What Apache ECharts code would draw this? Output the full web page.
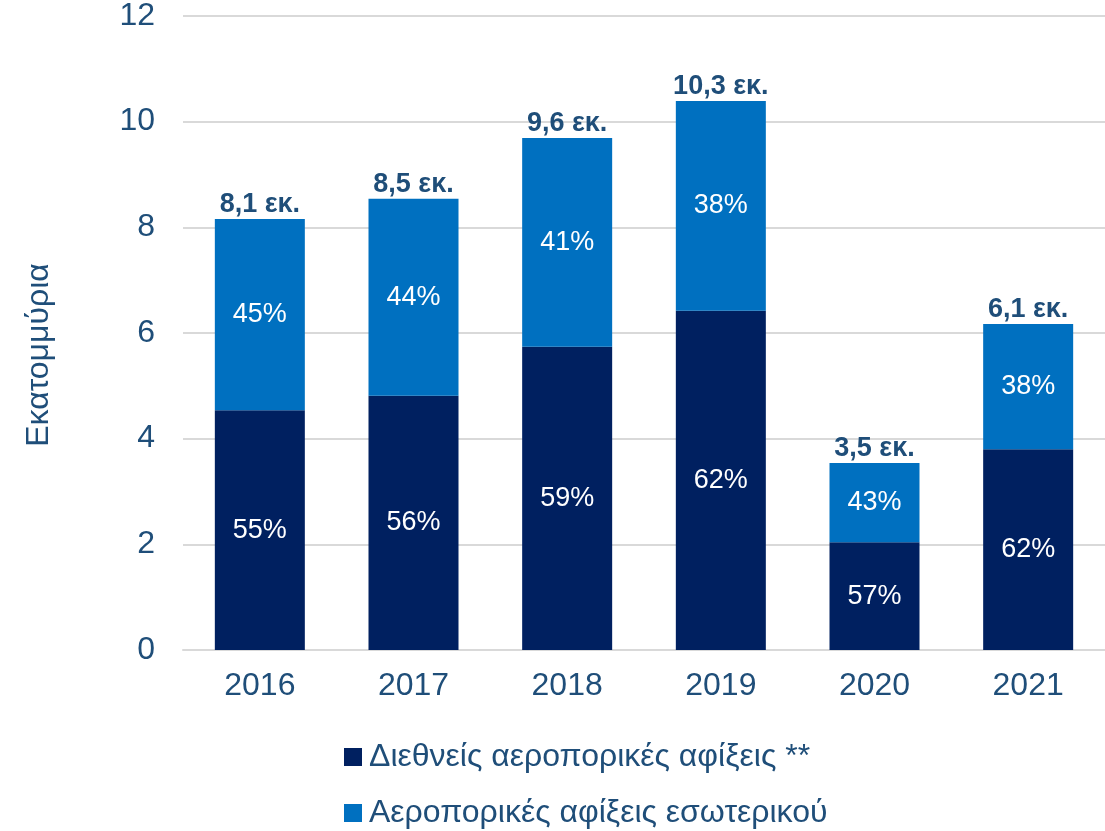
<!DOCTYPE html>
<html>
<head>
<meta charset="utf-8">
<script src="https://cdn.jsdelivr.net/npm/echarts@6/dist/echarts.min.js"></script>
<style>
html,body{margin:0;padding:0;background:#fff;}
#main{width:1105px;height:831px;}
</style>
</head>
<body>
<div id="main"></div>
<script>
const years = ['2016', '2017', '2018', '2019', '2020', '2021'];
const intlArrivals = [4.54, 4.81, 5.74, 6.42, 2.04, 3.80];
const domArrivals = [3.62, 3.73, 3.95, 3.97, 1.50, 2.37];
const intlShare = [55, 56, 59, 62, 57, 62];
const domShare = [45, 44, 41, 38, 43, 38];
const totalLabels = ['8,1', '8,5', '9,6', '10,3', '3,5', '6,1'];
const yTicks = [0, 2, 4, 6, 8, 10, 12];
const seriesNames = ['Διεθνείς αεροπορικές αφίξεις **', 'Αεροπορικές αφίξεις εσωτερικού'];

const textColor = '#1F4E79';
const font = 'Liberation Sans, Arial, sans-serif';

const chart = echarts.init(document.getElementById('main'));
chart.setOption({
  animation: false,
  textStyle: { fontFamily: font },
  grid: { left: 183, right: 0, top: 16, bottom: 181, containLabel: false },
  legend: {
    data: seriesNames,
    orient: 'vertical',
    left: 344,
    top: 741,
    height: 90,
    padding: 0,
    itemWidth: 18,
    itemHeight: 18,
    itemGap: 24,
    icon: 'rect',
    textStyle: { fontSize: 32, color: textColor, fontFamily: font, padding: [0, 0, 0, 2] }
  },
  xAxis: {
    type: 'category',
    data: years,
    axisLine: { lineStyle: { color: '#d9d9d9', width: 2 } },
    axisTick: { show: false },
    axisLabel: { fontSize: 32, color: textColor, margin: 20, fontFamily: font }
  },
  yAxis: {
    type: 'value',
    min: yTicks[0],
    max: yTicks[yTicks.length - 1],
    interval: 2,
    name: 'Εκατομμύρια',
    nameLocation: 'middle',
    nameRotate: 90,
    nameGap: 128,
    nameTextStyle: { fontSize: 32, color: textColor, fontFamily: font, padding: [0, 44, 0, 0] },
    axisLine: { show: false },
    axisTick: { show: false },
    splitLine: { lineStyle: { color: '#d9d9d9', width: 2 } },
    axisLabel: { fontSize: 32, color: textColor, margin: 28, fontFamily: font }
  },
  series: [
    {
      name: seriesNames[0],
      type: 'bar',
      stack: 'total',
      barWidth: 90,
      data: intlArrivals,
      itemStyle: { color: '#002060' },
      label: {
        show: true,
        position: 'inside',
        color: '#fff',
        fontSize: 27,
        fontFamily: font,
        formatter: p => intlShare[p.dataIndex] + '%'
      }
    },
    {
      name: seriesNames[1],
      type: 'bar',
      stack: 'total',
      barWidth: 90,
      data: domArrivals,
      itemStyle: { color: '#0070C0' },
      label: {
        show: true,
        position: 'inside',
        color: '#fff',
        fontSize: 27,
        fontFamily: font,
        formatter: p => domShare[p.dataIndex] + '%'
      }
    },
    {
      name: 'total',
      type: 'bar',
      stack: 'total',
      barWidth: 90,
      data: years.map(() => 0),
      itemStyle: { color: 'transparent' },
      label: {
        show: true,
        position: 'top',
        distance: 1,
        color: textColor,
        fontSize: 27,
        fontWeight: 'bold',
        fontFamily: font,
        formatter: p => totalLabels[p.dataIndex] + ' εκ.'
      }
    }
  ]
});
</script>
</body>
</html>
